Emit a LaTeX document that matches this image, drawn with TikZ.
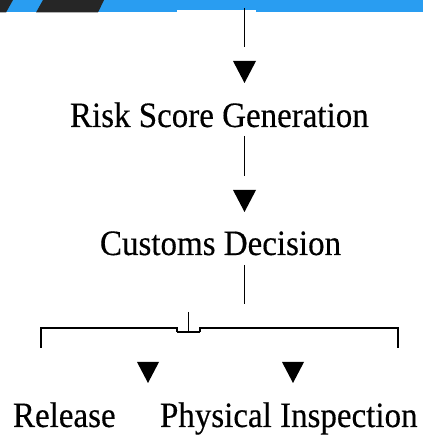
\documentclass[tikz,border=0pt]{standalone}
\usepackage{fontspec}
\setmainfont{Liberation Serif}[FakeBold=0.35]
\definecolor{bandblue}{RGB}{41,157,241}
\definecolor{banddark}{RGB}{38,38,38}
\tikzset{
  lbl/.style={anchor=base west, inner sep=0pt, outer sep=0pt, font=\fontsize{33bp}{40bp}\selectfont},
  vline/.style={line width=1.9bp, black},
  hline/.style={line width=1.3bp, black},
  tick/.style={line width=0.7bp, black},
  tip/.style={fill=black}
}
\newcommand{\tall}[1]{\scalebox{1}[1.08]{#1}}
\begin{document}
\begin{tikzpicture}[x=1bp,y=1bp]
\useasboundingbox (0,0) rectangle (423,436);
% top band (page top is y=436)
\fill[bandblue] (0,423.5) rectangle (423,436);
\fill[banddark] (0,436) -- (13,436) -- (6,423.5) -- (0,423.5) -- cycle;
\fill[banddark] (43,436) -- (104,436) -- (98,423.5) -- (36,423.5) -- cycle;
\fill[white] (177,423) rectangle (256,426);

% text nodes
\node[lbl] (risk) at (70,309) {\tall{Risk Score Generation}};
\node[lbl] (customs) at (100,181) {\tall{Customs Decision}};
\node[lbl] (release) at (13,9) {\tall{Release}};
\node[lbl] (inspect) at (160,9) {\tall{Physical Inspection}};

% connector coordinates
\coordinate (s1a) at (244.5,428);
\coordinate (s1b) at (244.5,389);
\coordinate (s2a) at (244.5,300);
\coordinate (s2b) at (244.5,260);
\coordinate (s3a) at (244.5,171);
\coordinate (s3b) at (244.5,132);
\coordinate (jt) at (188.5,124);
\coordinate (jb) at (188.5,104);
\coordinate (bl) at (41,89);
\coordinate (blt) at (41,108);
\coordinate (br) at (398,89);
\coordinate (brt) at (398,108);
\coordinate (bjl) at (177,108);
\coordinate (bjr) at (200,108);
\coordinate (bml) at (177,104);
\coordinate (bmr) at (200,104);

\draw[vline] (s1a) -- (s1b);
\draw[vline] (s2a) -- (s2b);
\draw[vline] (s3a) -- (s3b);

% arrow heads
\fill[tip] (233,375) -- (256,375) -- (244.5,353) -- cycle;
\fill[tip] (233,246) -- (256,246) -- (244.5,224) -- cycle;
\fill[tip] (137,74) -- (159,74) -- (148,53) -- cycle;
\fill[tip] (282,74) -- (304,74) -- (293,53) -- cycle;

% bracket
\draw[vline, line cap=rect] (bl) -- (blt);
\draw[hline] (blt) -- (bjl) -- (bml);
\draw[vline] (bml) -- (bmr);
\draw[hline] (bmr) -- (bjr) -- (brt);
\draw[vline, line cap=rect] (brt) -- (br);
\draw[vline] (jt) -- (jb);
\foreach \x in {52,73,94,115,136,157,221,242,263,283,304,326,347,367,388}
  \draw[tick] (\x,108) -- (\x,109.4);
\end{tikzpicture}
\end{document}
